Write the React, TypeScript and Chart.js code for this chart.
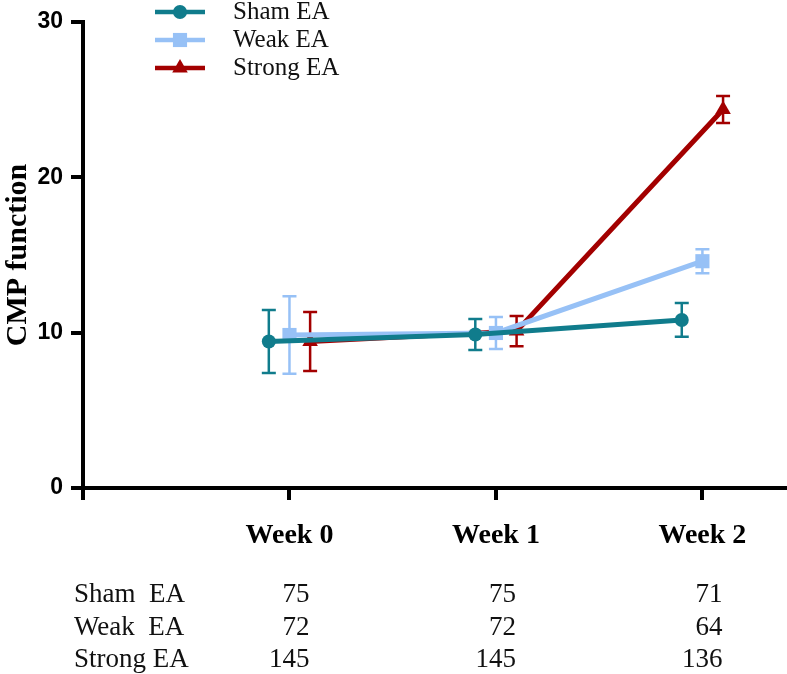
import { useEffect, useRef } from 'react';
import { Chart, registerables } from 'chart.js';
import { drawPoint } from 'chart.js/helpers';

Chart.register(...registerables);

// categories and groups
const weeks = ['Week 0', 'Week 1', 'Week 2'];
const groups = ['Sham EA', 'Weak EA', 'Strong EA'];
const tableLabels = ['Sham  EA', 'Weak  EA', 'Strong EA'];

// CMP function, mean and error per week
const shamMean = [9.43, 9.88, 10.82];
const shamErr = [2.03, 1.0, 1.09];
const weakMean = [9.85, 9.98, 14.6];
const weakErr = [2.5, 1.03, 0.77];
const strongMean = [9.43, 10.1, 24.37];
const strongErr = [1.9, 0.97, 0.87];

// n per group per week (table under the axis)
const shamN = [75, 75, 71];
const weakN = [72, 72, 64];
const strongN = [145, 145, 136];

const yTicks = [0, 10, 20, 30];

const TEAL = '#107c8c';
const BLUE = '#97c1f6';
const RED = '#a30000';

const series = [
  { mean: shamMean, err: shamErr, n: shamN, color: TEAL, style: 'circle', radius: 7, shift: -0.1 },
  { mean: weakMean, err: weakErr, n: weakN, color: BLUE, style: 'rect', radius: 10, shift: 0 },
  { mean: strongMean, err: strongErr, n: strongN, color: RED, style: 'triangle', radius: 9, shift: 0.1 },
];

const errorBars = {
  id: 'errorBars',
  beforeDatasetsDraw(chart: any) {
    const { ctx } = chart;
    const y = chart.scales.y;
    series.forEach((s, i) => {
      const meta = chart.getDatasetMeta(i);
      meta.data.forEach((pt: any, j: number) => {
        const top = y.getPixelForValue(s.mean[j] + s.err[j]);
        const bot = y.getPixelForValue(s.mean[j] - s.err[j]);
        ctx.save();
        ctx.strokeStyle = s.color;
        ctx.lineWidth = 2.5;
        ctx.beginPath();
        ctx.moveTo(pt.x, top);
        ctx.lineTo(pt.x, bot);
        ctx.moveTo(pt.x - 7, top);
        ctx.lineTo(pt.x + 7, top);
        ctx.moveTo(pt.x - 7, bot);
        ctx.lineTo(pt.x + 7, bot);
        ctx.stroke();
        ctx.restore();
      });
    });
  },
};

const legendAndTable = {
  id: 'legendAndTable',
  afterDraw(chart: any) {
    const { ctx } = chart;
    const x = chart.scales.x;
    ctx.save();
    // legend
    ctx.font = '25px "Liberation Serif"';
    ctx.textBaseline = 'middle';
    ctx.textAlign = 'left';
    series.forEach((s, i) => {
      const ly = 12 + i * 28;
      ctx.strokeStyle = s.color;
      ctx.lineWidth = 4.5;
      ctx.beginPath();
      ctx.moveTo(155, ly);
      ctx.lineTo(205, ly);
      ctx.stroke();
      ctx.fillStyle = s.color;
      drawPoint(ctx, { pointStyle: s.style, radius: s.radius, rotation: 0, borderWidth: 0 } as any, 180, ly);
      ctx.fillStyle = '#111';
      ctx.fillText(groups[i], 233, ly);
    });
    // n table
    ctx.font = '27px "Liberation Serif"';
    const rowY = [595, 628, 660];
    series.forEach((s, i) => {
      ctx.textAlign = 'left';
      ctx.fillText(tableLabels[i], 74, rowY[i]);
      ctx.textAlign = 'right';
      s.n.forEach((v, j) => {
        ctx.fillText(String(v), x.getPixelForValue(j + 1) + 20, rowY[i]);
      });
    });
    ctx.restore();
  },
};

export default function App() {
  const canvasRef = useRef<HTMLCanvasElement>(null);
  const chartRef = useRef<Chart | null>(null);

  useEffect(() => {
    const ctx = canvasRef.current?.getContext('2d');
    if (!ctx) return;

    chartRef.current = new Chart(ctx, {
      type: 'line',
      data: {
        datasets: series.map((s, i) => ({
          label: groups[i],
          data: s.mean.map((v, j) => ({ x: j + 1 + s.shift, y: v })),
          borderColor: s.color,
          backgroundColor: s.color,
          borderWidth: 5,
          tension: 0,
          pointStyle: s.style as any,
          pointRadius: s.radius,
          pointBackgroundColor: s.color,
          pointBorderWidth: 0,
          order: i,
        })),
      },
      options: {
        responsive: false,
        animation: false,
        events: [],
        layout: { padding: { top: 22, right: 0, left: 0, bottom: 0 } },
        plugins: {
          legend: { display: false },
          tooltip: { enabled: false },
        },
        scales: {
          x: {
            type: 'linear',
            position: 'bottom',
            min: 0,
            max: 3.4,
            afterBuildTicks: (scale: any) => {
              scale.ticks = [0, 1, 2, 3].map((value) => ({ value }));
            },
            afterFit: (scale: any) => {
              scale.height = 186;
            },
            border: { color: '#000', width: 4 },
            grid: { drawOnChartArea: false, color: '#000', lineWidth: 4, tickLength: 12 },
            ticks: {
              autoSkip: false,
              maxRotation: 0,
              padding: 19,
              color: '#000',
              font: { family: 'Liberation Serif', size: 28, weight: 'bold' },
              callback: (value: any) => weeks[Number(value) - 1] ?? '',
            },
          },
          y: {
            min: 0,
            max: 30,
            afterBuildTicks: (scale: any) => {
              scale.ticks = yTicks.map((value) => ({ value }));
            },
            afterFit: (scale: any) => {
              scale.width = 83;
            },
            border: { color: '#000', width: 4 },
            grid: { drawOnChartArea: false, color: '#000', lineWidth: 4, tickLength: 12 },
            ticks: {
              padding: 8,
              color: '#000',
              font: { family: 'Liberation Sans', size: 23, weight: 'bold' },
            },
            title: {
              display: true,
              text: 'CMP function',
              color: '#000',
              padding: { top: 0, bottom: 0 },
              font: { family: 'Liberation Serif', size: 30, weight: 'bold' },
            },
          },
        },
      },
      plugins: [errorBars, legendAndTable],
    });

    return () => {
      chartRef.current?.destroy();
      chartRef.current = null;
    };
  }, []);

  // canvas is a bit wider than the frame: the x axis runs to the right edge
  return (
    <div style={{ position: 'absolute', left: 0, top: 0, width: 787, height: 674, overflow: 'hidden', background: '#fff' }}>
      <canvas ref={canvasRef} width={795} height={674} style={{ display: 'block' }} />
    </div>
  );
}
